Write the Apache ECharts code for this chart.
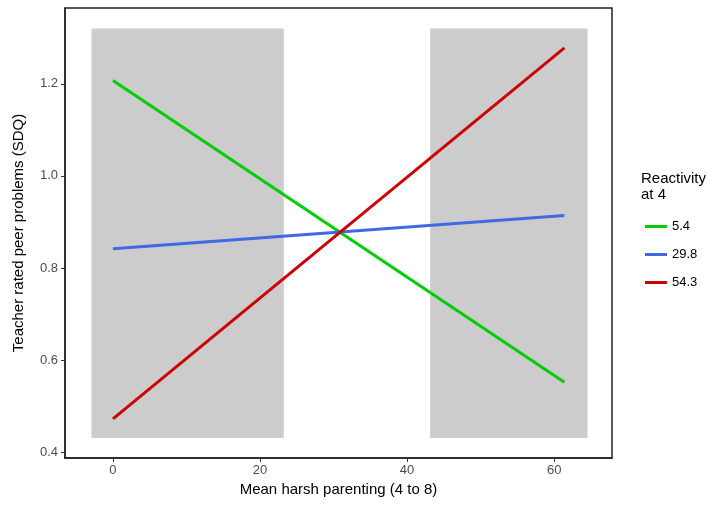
<!DOCTYPE html>
<html><head><meta charset="utf-8">
<script src="https://cdn.jsdelivr.net/npm/echarts@6/dist/echarts.min.js"></script>
<style>html,body{margin:0;padding:0;background:#fff}#c{width:723px;height:506px}</style>
</head><body><div id="c"></div>
<script>
// Data
const seriesNames = ['5.4', '29.8', '54.3'];
const xValues = [0, 61.4];
const green54 = [1.207, 0.552];
const blue298 = [0.842, 0.914];
const red543 = [0.4725, 1.278];
const xTicks = [0, 20, 40, 60];
const yTicks = [0.4, 0.6, 0.8, 1.0, 1.2];
const shadeX = [[-2.92, 23.23], [43.14, 64.54]];
const shadeY = [0.431, 1.320];
const colors = ['#00CD00', '#4169E1', '#CD0000'];

const font = 'Liberation Sans, Arial, sans-serif';
const chart = echarts.init(document.getElementById('c'));
const vals = [green54, blue298, red543];
const series = vals.map((v, i) => ({
  name: seriesNames[i], type: 'line', showSymbol: false, symbol: 'none',
  data: xValues.map((x, j) => [x, v[j]]),
  lineStyle: { color: colors[i], width: 3 }, itemStyle: { color: colors[i] },
  z: 3
}));
series.unshift({
  type: 'line', data: [], silent: true, z: 1,
  markArea: {
    silent: true,
    itemStyle: { color: '#CCCCCC' },
    data: shadeX.map(r => [{ coord: [r[0], shadeY[0]] }, { coord: [r[1], shadeY[1]] }])
  }
});
chart.setOption({
  animation: false,
  grid: { left: 65, right: 111, top: 8, bottom: 48, show: true, borderColor: '#222', borderWidth: 1.5, backgroundColor: 'transparent' },
  xAxis: {
    type: 'value', min: -6.52, max: 67.87,
    name: 'Mean harsh parenting (4 to 8)', nameLocation: 'middle', nameGap: 24,
    nameTextStyle: { fontFamily: font, fontSize: 15, color: '#000' },
    axisLine: { show: true, onZero: false, lineStyle: { color: '#222', width: 1.5 } },
    axisTick: { show: true, length: 4, lineStyle: { color: '#333' }, customValues: xTicks },
    axisLabel: { fontFamily: font, fontSize: 13, color: '#4d4d4d', margin: 6, customValues: xTicks },
    splitLine: { show: false }
  },
  yAxis: {
    type: 'value', min: 0.3874, max: 1.3646,
    name: 'Teacher rated peer problems (SDQ)', nameLocation: 'middle', nameGap: 39,
    nameTextStyle: { fontFamily: font, fontSize: 15, color: '#000' },
    axisLine: { show: true, onZero: false, lineStyle: { color: '#222', width: 1.5 } },
    axisTick: { show: true, length: 4, lineStyle: { color: '#333' }, customValues: yTicks },
    axisLabel: { fontFamily: font, fontSize: 13, color: '#4d4d4d', margin: 7, customValues: yTicks, formatter: v => v.toFixed(1) },
    splitLine: { show: false }
  },
  legend: {
    data: seriesNames, orient: 'vertical', left: 640, top: 215,
    icon: 'rect', itemWidth: 22, itemHeight: 3, itemGap: 15,
    textStyle: { fontFamily: font, fontSize: 13, color: '#000' }
  },
  graphic: [{
    type: 'text', left: 641, top: 171,
    style: { text: 'Reactivity\nat 4', font: '15px ' + font, fill: '#000', lineHeight: 16 }
  }],
  series: series
});
</script></body></html>
